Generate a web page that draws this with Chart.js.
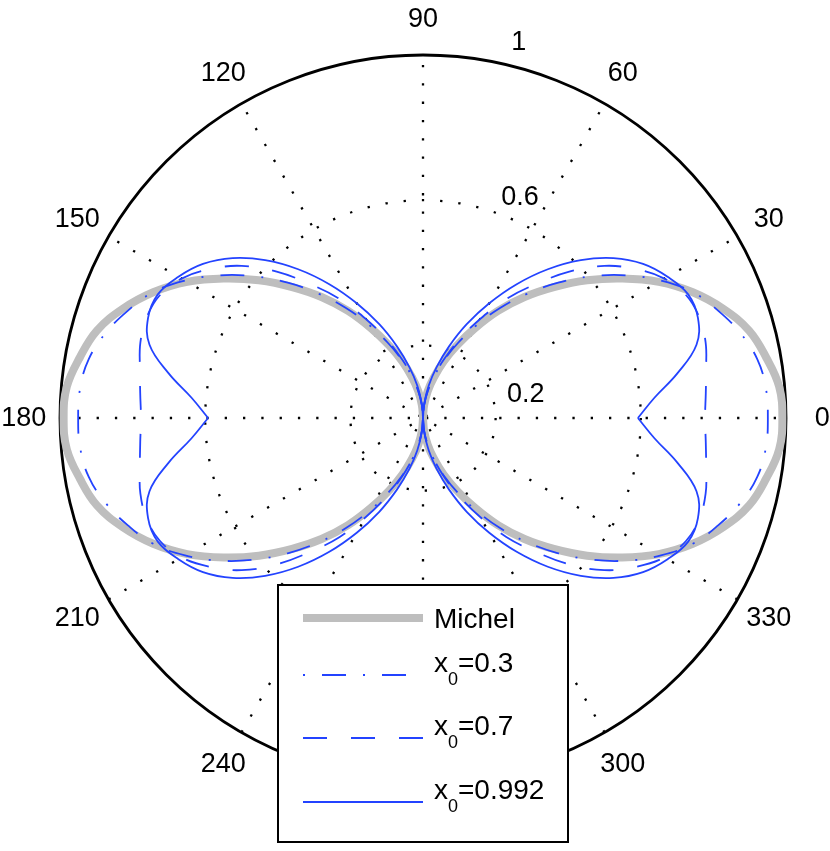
<!DOCTYPE html>
<html>
<head>
<meta charset="utf-8">
<script src="https://cdn.jsdelivr.net/npm/chart.js@4.4.1/dist/chart.umd.min.js"></script>
<style>
  html, body { margin: 0; padding: 0; background: #ffffff; }
  canvas { display: block; }
</style>
</head>
<body>
<canvas id="c" width="830" height="851"></canvas>
<script>
// ---- data (first quadrant; the figure is symmetric about both axes) ----
const THETA_DEG = [0, 5, 10, 15, 20, 25, 30, 35, 40, 45, 50, 55, 60, 65, 70, 75, 80, 85, 90];
const MICHEL   = [0.99, 0.985, 0.96, 0.93, 0.88, 0.82, 0.75, 0.67, 0.59, 0.51, 0.435, 0.36, 0.285, 0.22, 0.165, 0.115, 0.075, 0.035, 0.0];
const X0_03    = [0.95, 0.948, 0.935, 0.905, 0.865, 0.82, 0.757, 0.685, 0.607, 0.527, 0.447, 0.37, 0.295, 0.228, 0.17, 0.12, 0.078, 0.037, 0.0];
const X0_07    = [0.777, 0.782, 0.792, 0.806, 0.81, 0.80, 0.768, 0.715, 0.652, 0.57, 0.48, 0.40, 0.315, 0.24, 0.175, 0.12, 0.075, 0.035, 0.0];
const X0_0992  = [0.592, 0.64, 0.712, 0.78, 0.806, 0.806, 0.778, 0.74, 0.685, 0.615, 0.535, 0.45, 0.365, 0.285, 0.21, 0.145, 0.09, 0.04, 0.0];

const SERIES_NAMES = ['Michel', '0.3', '0.7', '0.992'];
const RING_VALUES = [0.2, 0.6, 1];
const RING_LABELS = ['0.2', '0.6', '1'];
const SPOKE_DEG = [0, 30, 60, 90, 120, 150, 180, 210, 240, 270, 300, 330];
const SPOKE_LABELS = ['0', '30', '60', '90', '120', '150', '180', '210', '240', '270', '300', '330'];

// ---- helpers to turn (theta, r) readings into cartesian points ----
function polarPoint(deg, r) {
  const t = deg * Math.PI / 180;
  return { x: r * Math.cos(t), y: r * Math.sin(t) };
}
// side = +1 right lobe (theta -90..90), -1 left lobe (theta 90..270)
// part: 'all', 'upper' (0..90), 'lower' (-90..0)
function lobe(rq, side, part) {
  const pts = [];
  const n = THETA_DEG.length;
  if (part === 'all' || part === 'lower') {
    const start = n - 1, stop = part === 'lower' ? 0 : 1;
    for (let i = start; i >= stop; i--) {
      const deg = side > 0 ? -THETA_DEG[i] : 180 + THETA_DEG[i];
      pts.push(polarPoint(deg, rq[i]));
    }
  }
  if (part === 'all' || part === 'upper') {
    for (let i = 0; i < n; i++) {
      const deg = side > 0 ? THETA_DEG[i] : 180 - THETA_DEG[i];
      pts.push(polarPoint(deg, rq[i]));
    }
  }
  return pts;
}

const GRAY = '#bebebe';
const BLUE = '#2343ff';
const STYLES = [
  { color: GRAY, width: 8, dash: [], order: 4 },
  { color: BLUE, width: 1.8, dash: [24, 17, 2, 17], order: 3 },
  { color: BLUE, width: 1.8, dash: [24, 24], order: 2 },
  { color: BLUE, width: 1.8, dash: [], order: 1 }
];

function ds(data, style) {
  return {
    data: data,
    showLine: true,
    fill: false,
    borderColor: style.color,
    backgroundColor: style.color,
    borderWidth: style.width,
    borderDash: style.dash,
    pointRadius: 0,
    pointHoverRadius: 0,
    tension: 0.4,
    clip: false,
    order: style.order
  };
}

const datasets = [
  ds(lobe(MICHEL, 1, 'all'), STYLES[0]),
  ds(lobe(MICHEL, -1, 'all'), STYLES[0]),
  ds(lobe(X0_03, 1, 'all'), STYLES[1]),
  ds(lobe(X0_03, -1, 'all'), STYLES[1]),
  ds(lobe(X0_07, 1, 'all'), STYLES[2]),
  ds(lobe(X0_07, -1, 'all'), STYLES[2]),
  ds(lobe(X0_0992, 1, 'upper'), STYLES[3]),
  ds(lobe(X0_0992, 1, 'lower'), STYLES[3]),
  ds(lobe(X0_0992, -1, 'upper'), STYLES[3]),
  ds(lobe(X0_0992, -1, 'lower'), STYLES[3])
];

const FONT = '"Liberation Sans", Arial, Helvetica, sans-serif';

const polarGrid = {
  id: 'polarGrid',
  beforeDatasetsDraw(chart) {
    const { ctx, scales: { x, y } } = chart;
    const cx = x.getPixelForValue(0), cy = y.getPixelForValue(0);
    const R = x.getPixelForValue(1) - cx;
    ctx.save();
    ctx.strokeStyle = '#000';
    ctx.lineWidth = 2.3;
    ctx.lineCap = 'butt';
    ctx.setLineDash([2.3, 16]);
    // spokes
    for (let k = 0; k < SPOKE_DEG.length / 2; k++) {
      const t = SPOKE_DEG[k] * Math.PI / 180;
      ctx.beginPath();
      ctx.moveTo(cx - R * Math.cos(t), cy + R * Math.sin(t));
      ctx.lineTo(cx + R * Math.cos(t), cy - R * Math.sin(t));
      ctx.stroke();
    }
    // inner rings
    RING_VALUES.forEach(v => {
      if (v >= 1) return;
      ctx.beginPath();
      ctx.arc(cx, cy, x.getPixelForValue(v) - cx, 0, Math.PI * 2);
      ctx.stroke();
    });
    // outer circle
    ctx.setLineDash([]);
    ctx.lineWidth = 2.8;
    ctx.beginPath();
    ctx.arc(cx, cy, R, 0, Math.PI * 2);
    ctx.stroke();
    ctx.restore();
  },
  afterDatasetsDraw(chart) {
    const { ctx, scales: { x, y } } = chart;
    const cx = x.getPixelForValue(0), cy = y.getPixelForValue(0);
    const R = x.getPixelForValue(1) - cx;
    ctx.save();
    ctx.fillStyle = '#000';
    ctx.font = '27px ' + FONT;
    ctx.textAlign = 'center';
    ctx.textBaseline = 'middle';
    // angle labels
    SPOKE_DEG.forEach((d, i) => {
      const t = d * Math.PI / 180;
      ctx.fillText(SPOKE_LABELS[i], cx + 1.1 * R * Math.cos(t), cy - 1.1 * R * Math.sin(t) + 1);
    });
    // ring labels
    const ringPos = [[0.283, 0.068], [0.267, 0.609], [0.264, 1.037]];
    RING_LABELS.forEach((lab, i) => {
      ctx.fillText(lab, x.getPixelForValue(ringPos[i][0]), y.getPixelForValue(ringPos[i][1]) + 1);
    });

    // legend box
    const bx = 278, by = 585, bw = 290, bh = 257;
    ctx.fillStyle = '#fff';
    ctx.fillRect(bx, by, bw, bh);
    ctx.strokeStyle = '#000';
    ctx.lineWidth = 2;
    ctx.strokeRect(bx, by, bw, bh);
    const rowY = [618, 675, 738, 802];
    const lx0 = 303, lx1 = 423, tx = 434;
    SERIES_NAMES.forEach((name, i) => {
      const st = STYLES[i];
      ctx.save();
      ctx.strokeStyle = st.color;
      ctx.lineWidth = st.width;
      ctx.setLineDash(i === 1 ? [2, 17, 24, 17] : st.dash);
      ctx.beginPath();
      ctx.moveTo(lx0, rowY[i]);
      ctx.lineTo(lx1, rowY[i]);
      ctx.stroke();
      ctx.restore();
      ctx.fillStyle = '#000';
      ctx.textAlign = 'left';
      ctx.textBaseline = 'alphabetic';
      if (i === 0) {
        ctx.font = '28px ' + FONT;
        ctx.fillText(name, tx, rowY[i] + 10);
      } else {
        const base = rowY[i] - 3;
        ctx.font = '28px ' + FONT;
        ctx.fillText('x', tx, base);
        let px = tx + ctx.measureText('x').width;
        ctx.font = '18px ' + FONT;
        ctx.fillText('0', px, base + 13);
        px += ctx.measureText('0').width;
        ctx.font = '28px ' + FONT;
        ctx.fillText('=' + name, px, base);
      }
    });
    ctx.restore();
  }
};

new Chart(document.getElementById('c'), {
  type: 'scatter',
  data: { datasets: datasets },
  options: {
    responsive: false,
    animation: false,
    layout: { padding: { left: 60, right: 44, top: 55, bottom: 70 } },
    scales: {
      x: { type: 'linear', min: -1, max: 1, display: false },
      y: { type: 'linear', min: -1, max: 1, display: false }
    },
    elements: { point: { radius: 0 }, line: { capBezierPoints: false } },
    plugins: { legend: { display: false }, tooltip: { enabled: false } }
  },
  plugins: [polarGrid]
});
</script>
</body>
</html>
